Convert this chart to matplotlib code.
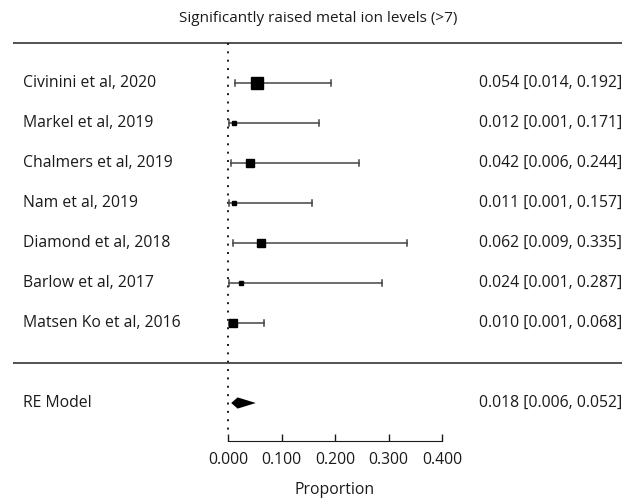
import matplotlib
matplotlib.use("Agg")
import matplotlib.pyplot as plt
import numpy as np

# study-level proportions with 95% CI
studies = ["Civinini et al, 2020", "Markel et al, 2019", "Chalmers et al, 2019", "Nam et al, 2019",
           "Diamond et al, 2018", "Barlow et al, 2017", "Matsen Ko et al, 2016"]
est = [0.054, 0.012, 0.042, 0.011, 0.062, 0.024, 0.010]
lo = [0.014, 0.001, 0.006, 0.001, 0.009, 0.001, 0.001]
hi = [0.192, 0.171, 0.244, 0.157, 0.335, 0.287, 0.068]
weights = [24, 4, 11, 4, 11, 4, 14]   # approx. relative weights (square size)
re_est, re_lo, re_hi = 0.018, 0.006, 0.052
xticks = [0.0, 0.1, 0.2, 0.3, 0.4]

INK = "#1a1a1a"; LINE = "#444444"; FS = 11.3
plt.rcParams.update({"font.family": ["Open Sans", "DejaVu Sans"], "text.color": INK})

W, H = 633, 503
X0, PXU = 228, 535.0          # pixel of x=0 and pixels per unit
fig = plt.figure(figsize=(W / 100, H / 100), dpi=100)
ax = fig.add_axes([0, 0, 1, 1])
ax.set_xlim(-X0 / PXU, (W - X0) / PXU)
ax.set_ylim(7 - (H - 83) / 40, 7 + 83 / 40)
for s in ["top", "right", "left"]:
    ax.spines[s].set_visible(False)
ax.set_yticks([])

k = len(studies)
rows = np.arange(k, 0, -1)
xl, xr = ax.get_xlim()
xa = xl + 13 / PXU; xb = xl + 622 / PXU
# horizontal separators
ax.plot([xa, xb], [k + 1, k + 1], color=LINE, lw=1.3, solid_capstyle="butt")
ax.plot([xa, xb], [0, 0], color=LINE, lw=1.3, solid_capstyle="butt")
# reference line
ax.plot([0, 0], [k + 1, -1.75], color=INK, lw=1.4, ls=(0, (1, 3.3)))

# CIs and squares
for r, name, e, a, b, w in zip(rows, studies, est, lo, hi, weights):
    ax.plot([a, b], [r, r], color=LINE, lw=1.1)
    ax.plot([a, a], [r - 0.07, r + 0.07], color=LINE, lw=1.1)
    ax.plot([b, b], [r - 0.07, r + 0.07], color=LINE, lw=1.1)
    ax.plot(e, r, marker="s", ms=np.sqrt(w) * 1.65, color="black", mec="black", zorder=3)
    ax.text(xl + 23 / PXU, r, name, ha="left", va="center", fontsize=FS)
    ax.text(xb, r, f"{e:.3f} [{a:.3f}, {b:.3f}]", ha="right", va="center", fontsize=FS)

# RE model diamond
yr = -1
ax.fill([re_lo, re_est, re_hi, re_est], [yr, yr + 0.14, yr, yr - 0.14], color="black", lw=0)
ax.text(xl + 23 / PXU, yr, "RE Model", ha="left", va="center", fontsize=FS)
ax.text(xb, yr, f"{re_est:.3f} [{re_lo:.3f}, {re_hi:.3f}]", ha="right", va="center", fontsize=FS)

# x axis
ax.spines["bottom"].set_position(("data", 7 - (441 - 83) / 40))
ax.spines["bottom"].set_bounds(xticks[0], xticks[-1])
ax.spines["bottom"].set_color(INK)
ax.set_xticks(xticks)
ax.set_xticklabels([f"{t:.3f}" for t in xticks])
ax.tick_params(axis="x", direction="in", length=5, width=1, pad=8, labelsize=11.3, colors=INK)

ax.text(0.2, 7 - (490 - 83) / 40, "Proportion", ha="center", va="center", fontsize=FS)
ax.text(xl + 318 / PXU, 7 - (18 - 83) / 40, "Significantly raised metal ion levels (>7)",
        ha="center", va="center", fontsize=11)

fig.savefig("out.png", dpi=100, facecolor="white")
